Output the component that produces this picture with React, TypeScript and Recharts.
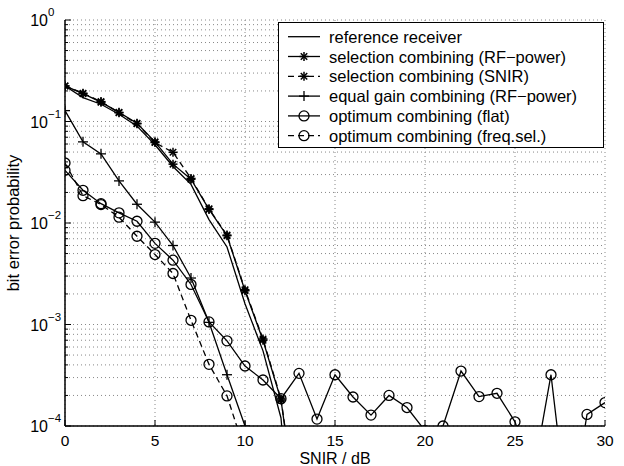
import { LineChart, Line, XAxis, YAxis, CartesianGrid, Legend } from 'recharts';

// SNIR in dB
const snir = [0, 1, 2, 3, 4, 5, 6, 7, 8, 9, 10, 11, 12, 13, 14, 15, 16, 17, 18, 19, 20, 21, 22, 23, 24, 25, 26, 27, 28, 29, 30];

// bit error probability per curve
const referenceRx = [0.224, 0.172, 0.148, 0.118, 0.09, 0.059, 0.036, 0.024, 0.0108, 0.0058, 0.0016, 0.00055, 0.00012, 0.000001];
const selRfPower = [0.224, 0.188, 0.155, 0.123, 0.096, 0.063, 0.038, 0.027, 0.0136, 0.0075, 0.00215, 0.0007, 0.00018, 0.00001];
const selSnir = [0.224, 0.19, 0.157, 0.122, 0.095, 0.062, 0.0497, 0.0275, 0.0138, 0.0076, 0.0022, 0.00072, 0.000185, 0.00001];
const egcRfPower = [0.128, 0.063, 0.048, 0.026, 0.0153, 0.0102, 0.006, 0.00287, 0.00105, 0.00032, 0.0001];
const optFlat = [0.033, 0.021, 0.0155, 0.0126, 0.0104, 0.0063, 0.0043, 0.00248, 0.00106, 0.00069, 0.00039, 0.000284, 0.000186, 0.00033, 0.000117, 0.00032, 0.000193, 0.000128, 0.0002, 0.000152, 0.00009, 0.0001, 0.000348, 0.000195, 0.00021, 0.00011, 0.000032, 0.00032, 0.00001, 0.00013, 0.00017];
const optFreqSel = [0.039, 0.0186, 0.0152, 0.0114, 0.0074, 0.00489, 0.00318, 0.0011, 0.000405, 0.000198, 0.000056];

const xTicks = [0, 5, 10, 15, 20, 25, 30];
const decades = [0.0001, 0.001, 0.01, 0.1];
const mantissas = [1, 2, 3, 4, 5, 6, 7, 8, 9];
const yTicks = [...decades.flatMap((d) => mantissas.map((m) => m * d)), 1];

const series = [
  { key: 'ref', name: 'reference receiver', values: referenceRx, dashed: false, marker: 'none' },
  { key: 'selRf', name: 'selection combining (RF\u2212power)', values: selRfPower, dashed: false, marker: 'star' },
  { key: 'selSnir', name: 'selection combining (SNIR)', values: selSnir, dashed: true, marker: 'star' },
  { key: 'egc', name: 'equal gain combining (RF\u2212power)', values: egcRfPower, dashed: false, marker: 'plus' },
  { key: 'optFlat', name: 'optimum combining (flat)', values: optFlat, dashed: false, marker: 'circle' },
  { key: 'optFs', name: 'optimum combining (freq.sel.)', values: optFreqSel, dashed: true, marker: 'circle' },
];

const rows = snir.map((x, i) => {
  const row: Record<string, number | null> = { x };
  series.forEach((s) => {
    row[s.key] = i < s.values.length ? s.values[i] : null;
  });
  return row;
});

const FONT = '"Liberation Sans", Arial, Helvetica, sans-serif';

const Marker = ({ type, cx, cy }: { type: string; cx: number; cy: number }) => {
  if (type === 'star') {
    const r = 4.5;
    const d = r * 0.72;
    return (
      <g stroke="#000" strokeWidth={1.5}>
        <line x1={cx - r} y1={cy} x2={cx + r} y2={cy} />
        <line x1={cx} y1={cy - r} x2={cx} y2={cy + r} />
        <line x1={cx - d} y1={cy - d} x2={cx + d} y2={cy + d} />
        <line x1={cx - d} y1={cy + d} x2={cx + d} y2={cy - d} />
      </g>
    );
  }
  if (type === 'plus') {
    const r = 5;
    return (
      <g stroke="#000" strokeWidth={1.3}>
        <line x1={cx - r} y1={cy} x2={cx + r} y2={cy} />
        <line x1={cx} y1={cy - r} x2={cx} y2={cy + r} />
      </g>
    );
  }
  if (type === 'circle') {
    return <circle cx={cx} cy={cy} r={5} fill="none" stroke="#000" strokeWidth={1.3} />;
  }
  return null;
};

const makeDot = (type: string, id: string) => (p: any) => {
  const k = `${id}-${p.index}`;
  if (p.cx == null || p.cy == null || !isFinite(p.cx) || !isFinite(p.cy) || p.value == null) return <g key={k} />;
  return (
    <g key={k}>
      <Marker type={type} cx={p.cx} cy={p.cy} />
    </g>
  );
};

const isMajor = (v: number) => Math.abs(Math.log10(v) - Math.round(Math.log10(v))) < 1e-6;

const LeftTick = (p: any) => {
  const { x, y, payload } = p;
  const v = payload.value;
  const major = isMajor(v);
  const e = Math.round(Math.log10(v));
  return (
    <g>
      <line x1={x} y1={y} x2={x + (major ? 6 : 3)} y2={y} stroke="#000" strokeWidth={1} />
      {major && (
        <>
          <text x={x - 17} y={y + 6} textAnchor="end" fontSize={16} fill="#000" fontFamily={FONT}>10</text>
          <text x={x - 17} y={y - 4} textAnchor="start" fontSize={11.5} fill="#000" fontFamily={FONT}>
            {e === 0 ? '0' : `\u2212${-e}`}
          </text>
        </>
      )}
    </g>
  );
};

const RightTick = (p: any) => {
  const { x, y, payload } = p;
  const major = isMajor(payload.value);
  return <line x1={x} y1={y} x2={x - (major ? 6 : 3)} y2={y} stroke="#000" strokeWidth={1} />;
};

const BottomTick = (p: any) => {
  const { x, y, payload } = p;
  return (
    <g>
      <line x1={x} y1={y} x2={x} y2={y - 6} stroke="#000" strokeWidth={1} />
      <text x={x} y={y + 20} textAnchor="middle" fontSize={15.5} fill="#000" fontFamily={FONT}>{payload.value}</text>
    </g>
  );
};

const TopTick = (p: any) => {
  const { x, y } = p;
  return <line x1={x} y1={y} x2={x} y2={y + 6} stroke="#000" strokeWidth={1} />;
};

const XTitle = () => (
  <text x={335} y={464} textAnchor="middle" fontSize={16} fill="#000" fontFamily={FONT}>SNIR / dB</text>
);

const YTitle = () => (
  <text x={19} y={223} transform="rotate(-90, 19, 223)" textAnchor="middle" fontSize={16.5} fill="#000" fontFamily={FONT}>
    bit error probability
  </text>
);

const LegendBox = () => (
  <div style={{ width: 326, height: 126, border: '1px solid #000', background: '#fff', boxSizing: 'border-box' }}>
    <svg width={324} height={124} style={{ display: 'block' }}>
      {series.map((s, i) => {
        const cy = 13.7 + i * 19.8;
        return (
          <g key={s.key}>
            <line x1={9} x2={41} y1={cy} y2={cy} stroke="#000" strokeWidth={1.3} strokeDasharray={s.dashed ? '6 4' : undefined} />
            <Marker type={s.marker} cx={25} cy={cy} />
            <text x={50} y={cy + 6} fontSize={16.5} fill="#000" fontFamily={FONT}>{s.name}</text>
          </g>
        );
      })}
    </svg>
  </div>
);

export default function App() {
  return (
    <div style={{ position: 'absolute', left: 0, top: 0, width: 624, height: 466, background: '#fff', fontFamily: FONT }}>
      <LineChart width={624} height={466} data={rows} margin={{ top: 20, right: 19, bottom: 0, left: 0 }}>
        <CartesianGrid xAxisId="bottom" yAxisId="left" stroke="#888" strokeDasharray="1 3" />
        <XAxis
          xAxisId="bottom" dataKey="x" type="number" domain={[0, 30]} ticks={xTicks} interval={0}
          height={40} tickSize={0} tickMargin={0} tickLine={false} tick={BottomTick} allowDataOverflow
          axisLine={{ stroke: '#000', strokeWidth: 1.5 }} label={<XTitle />}
        />
        <XAxis
          xAxisId="top" orientation="top" dataKey="x" type="number" domain={[0, 30]} ticks={xTicks} interval={0}
          height={0} tickSize={0} tickMargin={0} tickLine={false} tick={TopTick} allowDataOverflow
          axisLine={{ stroke: '#000', strokeWidth: 1.5 }}
        />
        <YAxis
          yAxisId="left" type="number" scale="log" domain={[0.0001, 1]} ticks={yTicks} interval={0}
          width={65} tickSize={0} tickMargin={0} tickLine={false} tick={LeftTick} allowDataOverflow
          axisLine={{ stroke: '#000', strokeWidth: 1.5 }} label={<YTitle />}
        />
        <YAxis
          yAxisId="right" orientation="right" type="number" scale="log" domain={[0.0001, 1]} ticks={yTicks} interval={0}
          width={0} tickSize={0} tickMargin={0} tickLine={false} tick={RightTick} allowDataOverflow
          axisLine={{ stroke: '#000', strokeWidth: 1.5 }}
        />
        {series.map((s) => (
          <Line
            key={s.key}
            xAxisId="bottom"
            yAxisId="left"
            dataKey={s.key}
            name={s.name}
            stroke="#000"
            strokeWidth={1.3}
            strokeDasharray={s.dashed ? '6 4' : undefined}
            dot={s.marker === 'none' ? false : makeDot(s.marker, s.key)}
            activeDot={false}
            isAnimationActive={false}
          />
        ))}
        <Legend
          layout="horizontal" align="center" verticalAlign="middle"
          content={<LegendBox />}
          wrapperStyle={{ position: 'absolute', left: 278, top: 22, width: 326, height: 126 }}
        />
      </LineChart>
    </div>
  );
}
